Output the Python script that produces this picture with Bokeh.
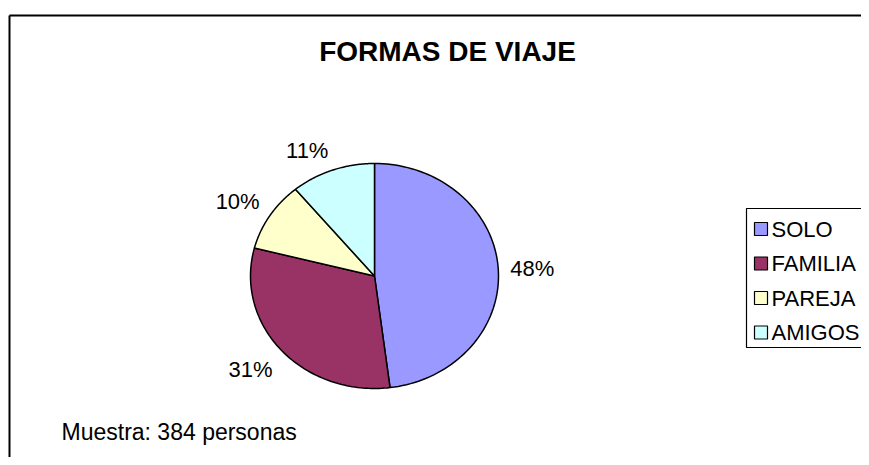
import numpy as np
from bokeh.plotting import figure
from bokeh.models import Range1d, ColumnDataSource
from bokeh.core.properties import value
from bokeh.embed import file_html
from bokeh.resources import INLINE

# ---- data ----
categories = ["SOLO", "FAMILIA", "PAREJA", "AMIGOS"]
percents = [48, 31, 10, 11]
colors = ["#9999FF", "#993366", "#FFFFCC", "#CCFFFF"]
title_text = "FORMAS DE VIAJE"
note_text = "Muestra: 384 personas"

W, H = 861, 457
FONT = "Liberation Sans"

p = figure(width=W, height=H, output_backend="svg", toolbar_location=None,
           x_range=Range1d(0, W), y_range=Range1d(H, 0),
           min_border=0, background_fill_color="white",
           border_fill_color="white", outline_line_color=None)
p.axis.visible = False
p.grid.visible = False

# chart-area frame (top and left edges visible)
p.segment(x0=[9, 9], y0=[15, 15], x1=[W + 5, 9], y1=[15, H + 5],
          line_color="black", line_width=2)

# title
p.text(x=[447], y=[51], text=[title_text], text_font=value(FONT),
       text_font_style="bold", text_font_size="28px", text_align="center",
       text_baseline="middle", text_color="black")

# ---- pie (elliptical, clockwise from top) ----
cx, cy, rx, ry = 374, 275.5, 124, 112.5
vals = np.array(percents, dtype=float)
fr = vals / vals.sum()
cum = np.concatenate([[0], np.cumsum(fr)])
xs, ys = [], []
for i in range(len(vals)):
    th = np.linspace(cum[i], cum[i + 1], 90) * 2 * np.pi
    xs.append(list(np.concatenate([[cx], cx + rx * np.sin(th), [cx]])))
    ys.append(list(np.concatenate([[cy], cy - ry * np.cos(th), [cy]])))
src = ColumnDataSource(dict(xs=xs, ys=ys, color=colors, cat=categories))
p.patches("xs", "ys", source=src, fill_color="color", line_color="black",
          line_width=1.5)

# percent labels: nearest corner of the label sits just outside the edge
mid = (cum[:-1] + cum[1:]) / 2 * 2 * np.pi
s, c = np.sin(mid), np.cos(mid)
gap = 12
ax = cx + rx * s + s * gap
ay = cy - ry * c - c * gap
half_cap = 8
aligns, ty = [], []
for si, ci, yy in zip(s, c, ay):
    aligns.append("center" if abs(si) < 0.25 else ("left" if si > 0 else "right"))
    if abs(ci) < 0.3:
        ty.append(yy)
    elif ci > 0:
        ty.append(yy - half_cap)
    else:
        ty.append(yy + half_cap + 3)
labels = [f"{int(round(v))}%" for v in vals]
lsrc = ColumnDataSource(dict(x=list(ax), y=ty, t=labels, a=aligns))
p.text(x="x", y="y", text="t", text_align="a", text_baseline="middle",
       source=lsrc, text_font=value(FONT), text_font_size="22px",
       text_color="black")

# ---- legend box ----
n = len(categories)
p.quad(left=[746], right=[W + 10], top=[208], bottom=[347],
       fill_color="white", line_color="black", line_width=1.2)
row_y = [228.5 + 34.5 * i for i in range(n)]
p.rect(x=[760.5] * n, y=row_y, width=13, height=13,
       fill_color=colors, line_color="black", line_width=1.2)
p.text(x=[771] * n, y=row_y, text=categories,
       text_font=value(FONT), text_font_size="22px", text_align="left",
       text_baseline="middle", text_color="black")

# sample note
p.text(x=[61], y=[431], text=[note_text], text_font=value(FONT),
       text_font_size="23px", text_align="left", text_baseline="middle",
       text_color="black")

open("out.html", "w").write(file_html(p, INLINE))
